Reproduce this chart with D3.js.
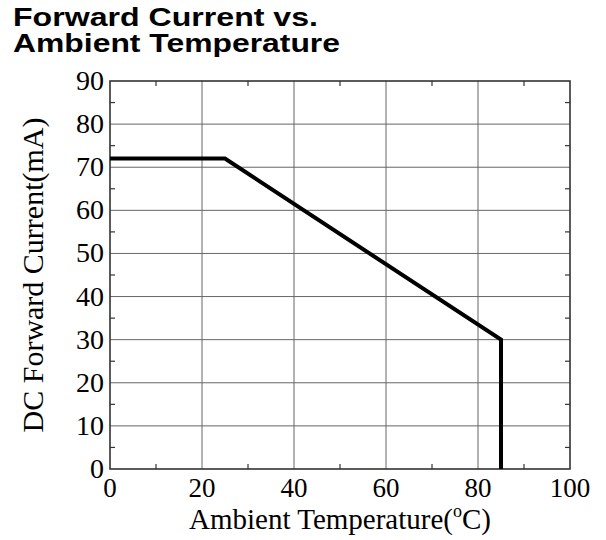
<!DOCTYPE html>
<html>
<head>
<meta charset="utf-8">
<script src="https://cdn.jsdelivr.net/npm/d3@7"></script>
<style>
  body { margin: 0; background: #fff; }
  svg { display: block; }
</style>
</head>
<body>
<svg width="606" height="540"></svg>
<script>
// derating curve
var temps = [0, 25, 85, 85]
var currents = [72, 72, 30, 0]
var xMajor = [0, 20, 40, 60, 80, 100]
var yMajor = [0, 10, 20, 30, 40, 50, 60, 70, 80, 90]
var xMinor = [10, 30, 50, 70, 90]
var yMinor = [5, 15, 25, 35, 45, 55, 65, 75, 85]

var svg = d3.select("svg")
var pLeft = 110, pRight = 570, pTop = 81, pBottom = 469

var x = d3.scaleLinear().domain([0, 100]).range([pLeft, pRight])
var y = d3.scaleLinear().domain([0, 90]).range([pBottom, pTop])

// title (the original is stretched sideways)
var sans = "Liberation Sans, Arial, sans-serif"
svg.append("text")
  .attr("x", 13).attr("y", 26)
  .attr("font-family", sans).attr("font-weight", "bold").attr("font-size", 26)
  .attr("textLength", 305).attr("lengthAdjust", "spacingAndGlyphs")
  .text("Forward Current vs.")
svg.append("text")
  .attr("x", 13).attr("y", 52)
  .attr("font-family", sans).attr("font-weight", "bold").attr("font-size", 26)
  .attr("textLength", 327).attr("lengthAdjust", "spacingAndGlyphs")
  .text("Ambient Temperature")

// grid
svg.append("g").selectAll("line")
  .data(xMajor.slice(1, -1))
  .enter().append("line")
  .attr("x1", d => x(d)).attr("x2", d => x(d))
  .attr("y1", pTop).attr("y2", pBottom)
  .attr("stroke", "#666").attr("stroke-width", 1)

svg.append("g").selectAll("line")
  .data(yMajor.slice(1, -1))
  .enter().append("line")
  .attr("x1", pLeft).attr("x2", pRight)
  .attr("y1", d => y(d)).attr("y2", d => y(d))
  .attr("stroke", "#666").attr("stroke-width", 1)

// minor ticks inside on all four sides
var tk = 5
var ticks = svg.append("g").attr("stroke", "#333").attr("stroke-width", 1.2)
xMinor.forEach(function(d) {
  ticks.append("line").attr("x1", x(d)).attr("x2", x(d)).attr("y1", pBottom).attr("y2", pBottom - tk)
  ticks.append("line").attr("x1", x(d)).attr("x2", x(d)).attr("y1", pTop).attr("y2", pTop + tk)
})
yMinor.forEach(function(d) {
  ticks.append("line").attr("x1", pLeft).attr("x2", pLeft + tk).attr("y1", y(d)).attr("y2", y(d))
  ticks.append("line").attr("x1", pRight).attr("x2", pRight - tk).attr("y1", y(d)).attr("y2", y(d))
})

// frame
svg.append("rect")
  .attr("x", pLeft).attr("y", pTop)
  .attr("width", pRight - pLeft).attr("height", pBottom - pTop)
  .attr("fill", "none").attr("stroke", "#333").attr("stroke-width", 1.6)

// tick labels
var serif = "Liberation Serif, Times New Roman, serif"
svg.append("g").selectAll("text")
  .data(xMajor)
  .enter().append("text")
  .attr("x", d => x(d)).attr("y", 497)
  .attr("text-anchor", "middle")
  .attr("font-family", serif).attr("font-size", 27)
  .text(d => d)

svg.append("g").selectAll("text")
  .data(yMajor)
  .enter().append("text")
  .attr("x", 104).attr("y", d => y(d) + 9)
  .attr("text-anchor", "end")
  .attr("font-family", serif).attr("font-size", 28)
  .text(d => d)

// axis labels
var xl = svg.append("text")
  .attr("x", 340).attr("y", 529)
  .attr("text-anchor", "middle")
  .attr("font-family", serif).attr("font-size", 29)
xl.append("tspan").text("Ambient Temperature(")
xl.append("tspan").attr("font-size", 18).attr("dy", -12).text("o")
xl.append("tspan").attr("dy", 12).text("C)")

svg.append("text")
  .attr("transform", "translate(43," + ((pTop + pBottom) / 2) + ") rotate(-90)")
  .attr("text-anchor", "middle")
  .attr("font-family", serif).attr("font-size", 30)
  .text("DC Forward Current(mA)")

// curve
var line = d3.line()
  .x(d => x(d[0]))
  .y(d => y(d[1]))

svg.append("path")
  .datum(d3.zip(temps, currents))
  .attr("d", line)
  .attr("fill", "none")
  .attr("stroke", "#000")
  .attr("stroke-width", 4)
</script>
</body>
</html>
